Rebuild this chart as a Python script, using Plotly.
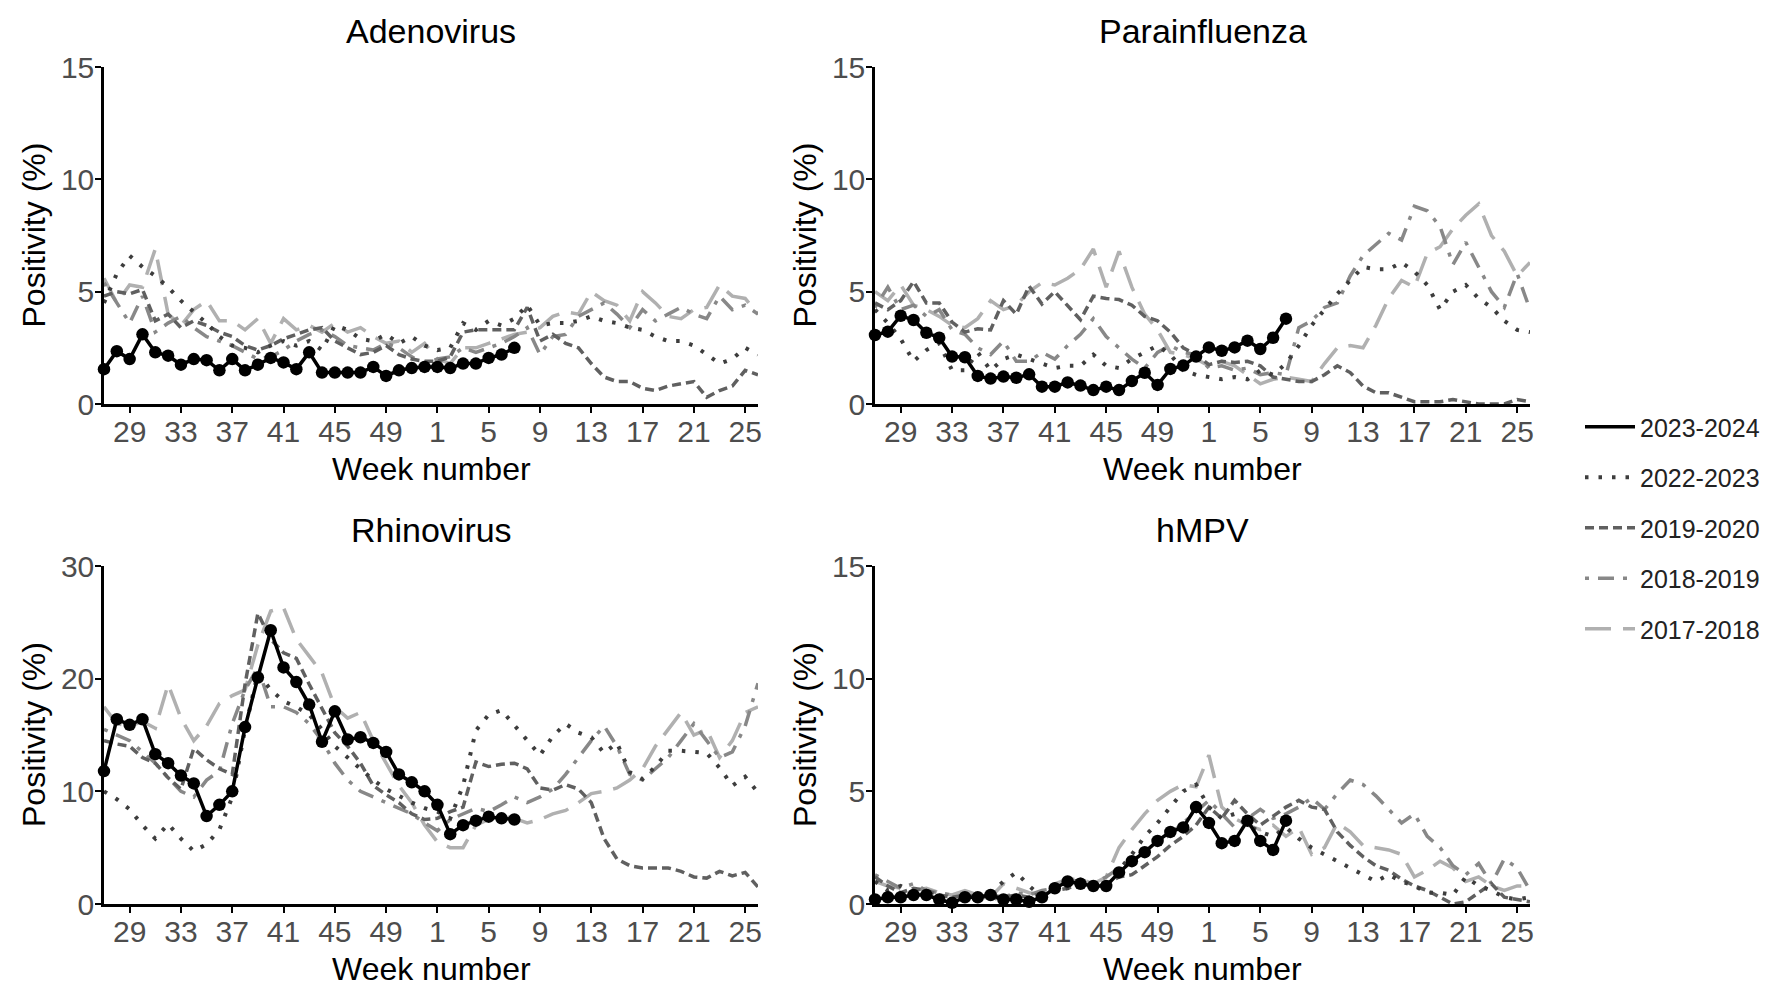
import plotly.graph_objects as go

# ---------------- data ----------------
weeks = list(range(27, 53)) + list(range(1, 27))          # 52 season weeks
tick_weeks = [29, 33, 37, 41, 45, 49, 1, 5, 9, 13, 17, 21, 25]
seasons = ["2023-2024", "2022-2023", "2019-2020", "2018-2019", "2017-2018"]
panel_titles = ["Adenovirus", "Parainfluenza", "Rhinovirus", "hMPV"]

# Adenovirus
adeno_2023 = [1.55, 2.35, 2.0, 3.1, 2.3, 2.15, 1.75, 2.0, 1.95, 1.5, 2.0, 1.5, 1.75, 2.05, 1.85, 1.55, 2.3,
              1.4, 1.4, 1.4, 1.4, 1.65, 1.25, 1.5, 1.6, 1.65, 1.65, 1.6, 1.8, 1.8, 2.05, 2.2, 2.5]
adeno_2022 = [4.5, 5.8, 6.6, 6.1, 5.7, 5.2, 4.6, 4.1, 3.6, 3.0, 2.6, 2.5, 2.3, 2.6, 2.8, 2.6, 2.8, 2.4, 3.5, 3.3,
              2.9, 2.8, 3.1, 2.7, 3.0, 2.6, 2.4, 2.5, 3.6, 3.3, 3.7, 3.5, 3.8, 4.4, 3.5, 3.6, 3.6, 3.7, 3.9, 3.7,
              3.6, 3.4, 3.3, 3.0, 2.8, 2.8, 2.6, 2.2, 1.8, 2.0, 2.5, 2.2]
adeno_2019 = [4.8, 5.0, 4.9, 5.1, 3.7, 4.0, 3.4, 3.7, 3.5, 3.2, 3.0, 2.6, 2.4, 2.6, 2.9, 3.1, 3.3, 3.4, 2.8, 2.5,
              2.2, 2.3, 2.6, 2.2, 2.0, 1.9, 1.9, 2.1, 3.2, 3.3, 3.3, 3.3, 3.3, 4.3, 2.8, 3.1, 2.7, 2.5, 1.8, 1.2,
              1.0, 1.0, 0.7, 0.6, 0.8, 0.9, 1.0, 0.3, 0.6, 0.8, 1.5, 1.3]
adeno_2018 = [5.4, 4.5, 3.6, 4.8, 3.2, 3.6, 3.9, 3.4, 3.0, 2.8, 2.6, 2.3, 2.0, 2.1, 2.4, 2.8, 3.1, 3.3, 3.0, 2.6,
              2.5, 2.4, 2.7, 2.5, 2.1, 1.8, 2.0, 2.1, 2.5, 2.3, 2.5, 2.7, 3.0, 3.4, 2.2, 3.0, 3.1, 3.9, 4.2, 4.5,
              4.0, 3.4, 4.2, 3.7, 4.0, 4.3, 4.0, 3.8, 4.8, 4.2, 4.4, 4.0]
adeno_2017 = [5.6, 4.5, 5.3, 5.2, 6.9, 4.0, 3.5, 4.2, 4.6, 3.7, 3.7, 3.3, 3.8, 2.7, 3.8, 3.3, 3.5, 3.2, 3.6, 3.2,
              3.4, 3.0, 2.7, 2.8, 2.3, 2.7, 2.0, 1.8, 2.5, 2.5, 2.7, 2.9, 3.1, 3.2, 3.4, 3.9, 4.1, 4.0, 5.0, 4.6,
              4.4, 3.7, 5.0, 4.5, 3.9, 3.8, 4.2, 4.3, 5.3, 4.8, 4.7, 4.0]

# Parainfluenza
para_2023 = [3.07, 3.22, 3.93, 3.74, 3.17, 2.95, 2.11, 2.08, 1.25, 1.13, 1.22, 1.17, 1.32, 0.77, 0.77, 0.96, 0.82,
             0.62, 0.77, 0.62, 1.02, 1.39, 0.85, 1.56, 1.71, 2.11, 2.52, 2.37, 2.52, 2.82, 2.45, 2.95, 3.8]
para_2022 = [4.2, 3.6, 2.9, 1.9, 2.4, 2.7, 1.5, 1.5, 2.3, 1.5, 2.0, 2.2, 2.0, 1.8, 1.6, 1.7, 1.7, 2.2, 1.7, 1.6,
             2.0, 2.3, 2.6, 2.2, 1.5, 1.3, 1.2, 1.1, 1.2, 1.1, 1.5, 1.3, 1.8, 2.6, 3.5, 4.2, 4.9, 5.5, 6.1, 6.0,
             6.0, 6.3, 5.9, 5.3, 4.2, 5.0, 5.3, 4.7, 4.3, 3.7, 3.3, 3.2]
para_2019 = [4.5, 4.2, 4.6, 5.45, 4.5, 4.5, 3.65, 3.2, 3.35, 3.3, 4.6, 4.0, 5.25, 4.45, 5.0, 4.4, 3.75, 4.8, 4.7,
             4.65, 4.4, 3.9, 3.7, 3.2, 2.5, 2.2, 1.75, 1.9, 1.85, 1.9, 1.7, 1.2, 1.1, 1.0, 1.0, 1.3, 1.7, 1.4,
             0.8, 0.5, 0.5, 0.3, 0.1, 0.1, 0.1, 0.2, 0.1, 0.0, 0.0, 0.0, 0.2, 0.1]
para_2018 = [4.3, 5.2, 4.2, 4.4, 3.9, 4.2, 3.3, 3.1, 2.5, 2.2, 2.8, 1.9, 1.9, 2.3, 2.0, 2.6, 3.1, 3.8, 3.0, 2.5,
             2.0, 1.6, 2.3, 2.6, 2.3, 2.2, 1.6, 1.7, 1.5, 1.6, 1.3, 1.4, 1.3, 3.4, 3.7, 4.3, 4.5, 5.7, 6.6, 7.1,
             7.6, 7.3, 8.8, 8.6, 7.9, 6.2, 7.2, 6.1, 5.0, 4.3, 5.8, 4.2]
para_2017 = [5.0, 4.6, 5.3, 4.4, 4.2, 3.9, 3.5, 3.4, 3.8, 4.6, 4.2, 4.4, 5.0, 5.4, 5.3, 5.6, 6.0, 6.9, 5.2, 6.8,
             5.2, 4.0, 3.3, 2.3, 2.2, 2.0, 1.7, 1.9, 1.7, 1.3, 0.9, 1.1, 1.2, 1.1, 1.0, 1.8, 2.5, 2.6, 2.5, 3.5,
             4.7, 5.5, 5.2, 6.7, 7.0, 7.8, 8.4, 8.9, 7.5, 6.8, 5.7, 6.3]

# Rhinovirus
rhino_2023 = [11.8, 16.4, 15.9, 16.4, 13.3, 12.5, 11.4, 10.7, 7.8, 8.8, 10.0, 15.7, 20.1, 24.3, 21.0, 19.7, 17.7,
              14.4, 17.1, 14.6, 14.8, 14.3, 13.5, 11.5, 10.8, 10.0, 8.8, 6.2, 7.0, 7.4, 7.75, 7.6, 7.5]
rhino_2022 = [10.0, 9.3, 8.4, 7.0, 5.8, 7.1, 5.8, 4.7, 5.3, 6.6, 9.5, 15.5, 20.5, 19.0, 18.0, 17.5, 16.8, 15.5,
              14.0, 13.0, 12.0, 11.0, 10.2, 9.6, 9.0, 8.5, 8.2, 7.6, 10.5, 15.4, 16.8, 17.2, 15.9, 14.5, 13.2,
              14.9, 16.0, 15.2, 14.8, 13.4, 14.3, 11.7, 11.1, 12.2, 13.6, 13.6, 13.5, 13.4, 12.1, 10.5, 11.3, 9.9]
rhino_2019 = [14.5, 14.2, 14.0, 13.0, 12.5, 11.2, 10.2, 13.8, 12.8, 12.0, 11.5, 19.5, 25.8, 23.5, 22.3, 21.8,
              19.5, 17.3, 15.2, 14.0, 12.5, 10.5, 9.7, 9.0, 8.0, 7.5, 7.6, 8.2, 8.6, 12.6, 12.2, 12.4, 12.5, 12.0,
              10.3, 10.1, 10.6, 10.2, 9.0, 5.8, 4.0, 3.4, 3.2, 3.2, 3.2, 2.9, 2.4, 2.3, 2.9, 2.5, 2.8, 1.5]
rhino_2018 = [15.5, 15.0, 14.5, 13.5, 12.5, 11.2, 10.0, 9.5, 11.0, 11.8, 16.0, 19.0, 21.0, 17.5, 17.5, 17.0, 16.0,
              14.5, 12.5, 11.0, 10.0, 9.5, 9.0, 8.5, 8.0, 7.2, 6.5, 7.5, 8.0, 8.5, 8.2, 8.8, 9.5, 9.0, 9.5, 10.2,
              11.5, 13.0, 14.5, 15.8, 14.0, 11.5, 11.0, 12.0, 13.0, 14.5, 16.0, 14.5, 13.0, 13.5, 15.8, 19.6]
rhino_2017 = [17.5, 16.0, 15.8, 16.2, 15.6, 19.5, 16.5, 14.5, 15.8, 17.8, 18.5, 19.0, 23.0, 26.0, 26.3, 23.5,
              22.0, 20.5, 17.5, 16.5, 17.0, 14.5, 12.5, 10.5, 9.0, 7.0, 5.5, 5.0, 5.0, 7.0, 7.5, 7.8, 7.6, 7.2,
              7.5, 8.0, 8.3, 9.0, 9.8, 10.0, 10.3, 11.0, 12.0, 14.0, 15.5, 17.0, 15.0, 15.5, 13.0, 14.5, 17.0, 17.5]

# hMPV
hmpv_2023 = [0.2, 0.3, 0.3, 0.4, 0.4, 0.2, 0.05, 0.3, 0.3, 0.4, 0.2, 0.2, 0.1, 0.3, 0.7, 1.0, 0.9, 0.8, 0.8,
             1.4, 1.9, 2.3, 2.8, 3.2, 3.4, 4.3, 3.6, 2.7, 2.8, 3.7, 2.8, 2.4, 3.7]
hmpv_2022 = [1.0, 0.6, 0.8, 0.5, 0.4, 0.3, 0.2, 0.3, 0.4, 0.5, 1.0, 1.4, 0.8, 0.3, 0.6, 0.7, 0.8, 0.7, 0.9, 1.5,
             2.2, 3.0, 3.6, 4.3, 5.0, 5.3, 4.3, 3.8, 4.0, 3.5, 3.2, 3.0, 3.4, 2.9, 2.5, 2.2, 1.9, 1.6, 1.3, 1.0,
             1.3, 1.0, 0.8, 0.5, 0.5, 0.4, 1.2, 0.8, 0.6, 0.3, 0.2, 0.3]
hmpv_2019 = [1.2, 0.8, 0.5, 0.7, 0.6, 0.4, 0.3, 0.4, 0.3, 0.4, 0.3, 0.4, 0.3, 0.5, 0.6, 0.7, 0.9, 0.8, 0.9, 1.2,
             1.3, 1.7, 2.1, 2.6, 3.0, 3.5, 4.3, 3.8, 4.6, 4.0, 3.5, 3.9, 4.3, 4.6, 4.3, 4.2, 3.2, 2.6, 2.1, 1.7,
             1.5, 1.1, 0.8, 0.6, 0.3, 0.0, 0.1, 0.5, 0.9, 0.3, 0.2, 0.1]
hmpv_2018 = [1.3, 1.0, 0.7, 0.9, 0.6, 0.5, 0.4, 0.3, 0.4, 0.2, 0.3, 0.5, 0.4, 0.6, 0.7, 0.9, 1.1, 0.9, 1.2, 1.6,
             1.9, 2.3, 2.7, 3.1, 3.6, 4.1, 4.6, 4.0, 3.4, 3.8, 4.2, 3.8, 4.0, 4.3, 4.7, 4.2, 4.9, 5.5, 5.3, 4.8,
             4.2, 3.6, 4.0, 3.0, 2.5, 1.7, 1.3, 1.8, 0.9, 2.0, 1.6, 0.6]
hmpv_2017 = [1.0, 0.8, 0.7, 0.6, 0.7, 0.5, 0.4, 0.6, 0.4, 0.3, 0.9, 0.7, 0.5, 0.4, 0.9, 1.1, 1.1, 0.9, 1.2, 2.5,
             3.3, 4.0, 4.6, 5.0, 5.3, 5.2, 6.6, 4.3, 3.8, 3.5, 3.3, 3.5, 3.0, 3.4, 2.2, 2.5, 3.6, 3.2, 2.6, 2.5,
             2.4, 2.2, 1.2, 1.5, 1.9, 1.6, 1.0, 1.2, 0.8, 0.6, 0.8, 0.8]

panels = [
    [adeno_2023, adeno_2022, adeno_2019, adeno_2018, adeno_2017],
    [para_2023, para_2022, para_2019, para_2018, para_2017],
    [rhino_2023, rhino_2022, rhino_2019, rhino_2018, rhino_2017],
    [hmpv_2023, hmpv_2022, hmpv_2019, hmpv_2018, hmpv_2017],
]
y_max = [15, 15, 30, 15]
y_ticks = [[0, 5, 10, 15], [0, 5, 10, 15], [0, 10, 20, 30], [0, 5, 10, 15]]

# ---------------- styling ----------------
W, H = 1787, 988
FONT = "Liberation Sans, Arial, sans-serif"
styles = {
    "2023-2024": dict(color="#000000", dash="solid", width=3.5),
    "2022-2023": dict(color="#3d3d3d", dash="3.5px,10px", width=4),
    "2019-2020": dict(color="#606060", dash="9px,5px", width=3.5),
    "2018-2019": dict(color="#888888", dash="4px,9px,16px,9px", width=3.5),
    "2017-2018": dict(color="#b0b0b0", dash="26px,12px", width=3.5),
}

xdom = [[104 / W, 758 / W], [875 / W, 1530 / W]]
ydom = [[1 - 404 / H, 1 - 67 / H], [1 - 904 / H, 1 - 566 / H]]

fig = go.Figure()
x_idx = list(range(len(weeks)))
tickvals = [weeks.index(w) for w in tick_weeks]

for p in range(4):
    r, c = divmod(p, 2)
    n = p + 1
    xa = "x" if n == 1 else f"x{n}"
    ya = "y" if n == 1 else f"y{n}"
    # draw older seasons first, current season on top
    for s_i in [4, 3, 2, 1]:
        season = seasons[s_i]
        vals = panels[p][s_i]
        st = styles[season]
        fig.add_trace(go.Scatter(
            x=x_idx[:len(vals)], y=vals, mode="lines", name=season,
            line=dict(color=st["color"], dash=st["dash"], width=st["width"]),
            xaxis=xa, yaxis=ya, showlegend=(p == 0), legendgroup=season,
            legendrank=s_i + 1, hoverinfo="skip"))
    cur = panels[p][0]
    st = styles[seasons[0]]
    fig.add_trace(go.Scatter(
        x=x_idx[:len(cur)], y=cur, mode="lines", name=seasons[0],
        line=dict(color=st["color"], width=st["width"]),
        xaxis=xa, yaxis=ya, showlegend=(p == 0), legendgroup=seasons[0],
        legendrank=1, cliponaxis=False))
    fig.add_trace(go.Scatter(
        x=x_idx[:len(cur)], y=cur, mode="markers", name=seasons[0],
        marker=dict(color="#000000", size=12.5), cliponaxis=False,
        xaxis=xa, yaxis=ya, showlegend=False, legendgroup=seasons[0]))

    axis_common = dict(showline=True, linecolor="#000000", linewidth=2.5, ticks="outside",
                       ticklen=6, tickwidth=2, tickcolor="#000000", showgrid=False, zeroline=False,
                       automargin=False,
                       tickfont=dict(family=FONT, size=30, color="#4d4d4d"))
    fig.layout[("xaxis" if n == 1 else f"xaxis{n}")] = dict(
        domain=xdom[c], range=[0, len(weeks) - 1], tickvals=tickvals,
        ticktext=[str(w) for w in tick_weeks], anchor=ya, ticklabelstandoff=-7, **axis_common)
    fig.layout[("yaxis" if n == 1 else f"yaxis{n}")] = dict(
        domain=ydom[r], range=[0, y_max[p]], tickvals=y_ticks[p], anchor=xa,
        ticklabelstandoff=-5, **axis_common)

annotations = []
for p in range(4):
    r, c = divmod(p, 2)
    xc = (xdom[c][0] + xdom[c][1]) / 2
    top = ydom[r][1]
    bottom = ydom[r][0]
    annotations.append(dict(text=panel_titles[p], x=xc, y=top, xref="paper", yref="paper",
                            xanchor="center", yanchor="middle", yshift=36, showarrow=False,
                            font=dict(family=FONT, size=34, color="#000000")))
    annotations.append(dict(text="Week number", x=xc, y=bottom, xref="paper", yref="paper",
                            xanchor="center", yanchor="middle", yshift=-65, showarrow=False,
                            font=dict(family=FONT, size=32, color="#000000")))
    annotations.append(dict(text="Positivity (%)", x=xdom[c][0], y=(top + bottom) / 2,
                            xref="paper", yref="paper", xanchor="center", yanchor="middle",
                            xshift=-70, textangle=-90, showarrow=False,
                            font=dict(family=FONT, size=32, color="#000000")))

fig.update_layout(
    width=W, height=H, margin=dict(l=0, r=0, t=0, b=0),
    paper_bgcolor="white", plot_bgcolor="white",
    annotations=annotations,
    legend=dict(x=1580 / W, y=1 - 404 / H, xanchor="left", yanchor="top",
                font=dict(family=FONT, size=25, color="#222222"),
                tracegroupgap=15, bgcolor="rgba(0,0,0,0)", itemwidth=50),
    font=dict(family=FONT),
)

fig.write_html("out.html")
